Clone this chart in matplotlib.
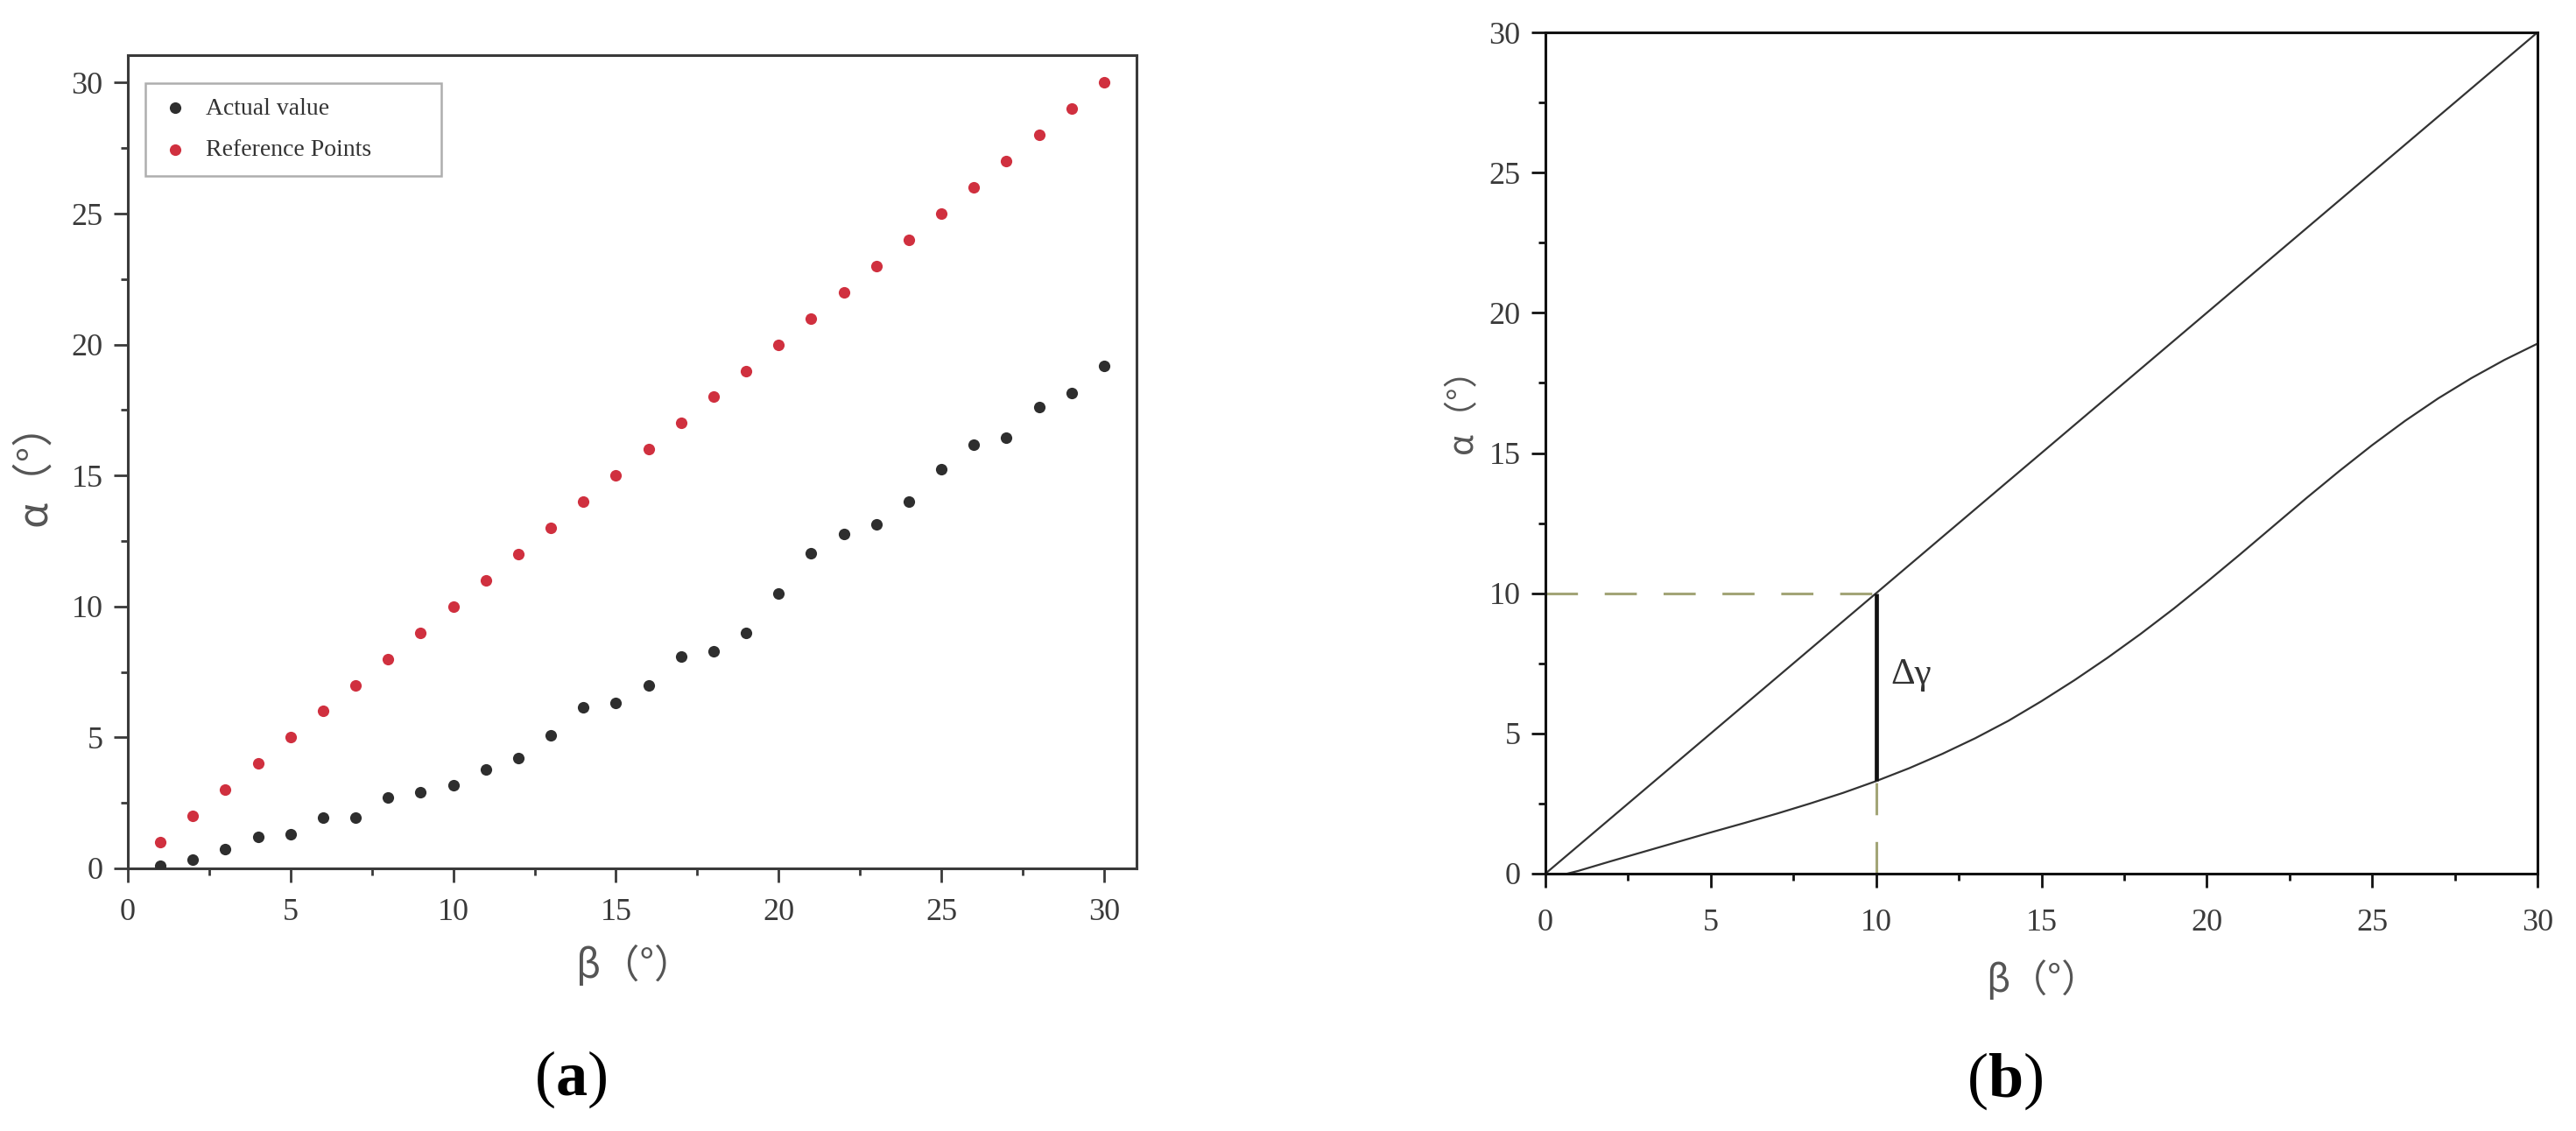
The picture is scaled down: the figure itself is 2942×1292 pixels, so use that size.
import matplotlib
matplotlib.use("Agg")
import matplotlib.pyplot as plt
from matplotlib.ticker import MultipleLocator

plt.rcParams['mathtext.fontset'] = 'custom'
plt.rcParams['mathtext.rm'] = 'Liberation Serif'
plt.rcParams['mathtext.bf'] = 'Liberation Serif:bold'

# ---------------- data: panel (a) ----------------
beta_points = [1, 2, 3, 4, 5, 6, 7, 8, 9, 10, 11, 12, 13, 14, 15,
               16, 17, 18, 19, 20, 21, 22, 23, 24, 25, 26, 27, 28, 29, 30]
actual_value = [0.1, 0.32, 0.75, 1.2, 1.29, 1.95, 1.95, 2.7, 2.92, 3.17,
                3.77, 4.22, 5.09, 6.14, 6.31, 6.98, 8.1, 8.28, 9.0, 10.5,
                12.02, 12.76, 13.14, 14.01, 15.24, 16.17, 16.45, 17.6, 18.15, 19.18]
reference_points = [1, 2, 3, 4, 5, 6, 7, 8, 9, 10, 11, 12, 13, 14, 15,
                    16, 17, 18, 19, 20, 21, 22, 23, 24, 25, 26, 27, 28, 29, 30]
series_labels = ["Actual value", "Reference Points"]

# ---------------- data: panel (b) ----------------
ideal_beta = [0, 30]
ideal_alpha = [0, 30]
curve_beta = [0.66, 1, 2, 3, 4, 5, 6, 7, 8, 9, 10, 11, 12, 13, 14, 15, 16, 17,
              18, 19, 20, 21, 22, 23, 24, 25, 26, 27, 28, 29, 30]
curve_alpha = [0.0, 0.1, 0.45, 0.79, 1.13, 1.47, 1.8, 2.14, 2.5, 2.88, 3.3, 3.76,
               4.27, 4.83, 5.45, 6.15, 6.9, 7.7, 8.55, 9.45, 10.4, 11.38, 12.38,
               13.38, 14.35, 15.28, 16.15, 16.95, 17.67, 18.32, 18.9]
mark_beta = 10
mark_alpha_ideal = 10
mark_alpha_actual = 3.3
delta_label = "Δγ"

ticks = [0, 5, 10, 15, 20, 25, 30]
xlabel_text = "β（°）"
ylabel_text = "α（°）"

W, H = 2942, 1292
fig = plt.figure(figsize=(W / 100, H / 100), dpi=100)
fig.patch.set_facecolor('white')

tick_font = dict(family='Liberation Serif', size=26)
label_font = ['Noto Sans CJK SC', 'DejaVu Sans']


def style_axes(ax, color):
    for sp in ax.spines.values():
        sp.set_linewidth(2.2)
        sp.set_color(color)
    ax.xaxis.set_major_locator(MultipleLocator(5))
    ax.yaxis.set_major_locator(MultipleLocator(5))
    ax.xaxis.set_minor_locator(MultipleLocator(2.5))
    ax.yaxis.set_minor_locator(MultipleLocator(2.5))
    ax.tick_params(which='major', direction='out', length=11.5, width=2.0,
                   color=color, labelcolor='#3a3a3a')
    ax.tick_params(which='minor', direction='out', length=6, width=2.0, color=color)
    ax.tick_params(axis='x', which='major', pad=13)
    ax.tick_params(axis='y', which='major', pad=9)
    ax.set_xticks(ticks)
    ax.set_yticks(ticks)
    ax.set_xticklabels([str(t) for t in ticks], fontdict=tick_font)
    ax.set_yticklabels([str(t) for t in ticks], fontdict=tick_font)


# ---------------- panel (a) ----------------
axa = fig.add_axes([146 / W, 1 - 992 / H, (1298 - 146) / W, (992 - 63) / H])
axa.scatter(beta_points, actual_value, s=90, color='#2e2e2e', zorder=3,
            label=series_labels[0], linewidths=0)
axa.scatter(beta_points, reference_points, s=90, color='#d0303f', zorder=3,
            label=series_labels[1], linewidths=0)
axa.set_xlim(0, 31)
axa.set_ylim(0, 31.05)
style_axes(axa, '#3a3a3a')
leg_w = (504 - 166) / (1298 - 146)
leg = axa.legend(loc='upper left', bbox_to_anchor=(0.017, 0.966, leg_w, 0.0),
                 mode='expand', frameon=True,
                 fancybox=False, prop=dict(family='Liberation Serif', size=20),
                 handletextpad=0.6, borderpad=0.6, labelspacing=0.8,
                 handlelength=1.3, borderaxespad=0, markerscale=1.0)
leg.get_frame().set_edgecolor('#9a9a9a')
leg.get_frame().set_linewidth(1.8)
for t in leg.get_texts():
    t.set_color('#333333')
axa.set_xlabel(xlabel_text, family=label_font, size=32, color='#555555')
axa.set_ylabel(ylabel_text, family=label_font, size=34, color='#555555')
axa.xaxis.set_label_coords(0.502, -0.12)
axa.xaxis.label.set_verticalalignment('center')
axa.yaxis.set_label_coords(-0.093, 0.497)
axa.yaxis.label.set_verticalalignment('center')

# ---------------- panel (b) ----------------
axb = fig.add_axes([1765 / W, 1 - 998 / H, (2898 - 1765) / W, (998 - 37) / H])
axb.plot(ideal_beta, ideal_alpha, color='#333333', lw=1.6, zorder=2)
axb.plot(curve_beta, curve_alpha, color='#333333', lw=1.6, zorder=2)
axb.plot([0, mark_beta], [mark_alpha_ideal, mark_alpha_ideal], color='#a3a577',
         lw=2.2, dashes=(12, 10), zorder=1)
axb.plot([mark_beta, mark_beta], [0, mark_alpha_actual], color='#a3a577',
         lw=2.2, dashes=(12, 10), zorder=1)
axb.plot([mark_beta, mark_beta], [mark_alpha_actual, mark_alpha_ideal],
         color='#111111', lw=3.4, zorder=3, solid_capstyle='butt')
axb.text(mark_beta + 0.45, 7.1, delta_label, family='Liberation Serif', size=31,
         color='#333333', ha='left', va='center')
axb.set_xlim(0, 30)
axb.set_ylim(0, 30)
style_axes(axb, '#111111')
axb.tick_params(axis='x', which='major', pad=17)
axb.set_xlabel(xlabel_text, family=label_font, size=31, color='#555555')
axb.set_ylabel(ylabel_text, family=label_font, size=28, color='#555555')
axb.xaxis.set_label_coords(0.501, -0.127)
axb.xaxis.label.set_verticalalignment('center')
axb.yaxis.set_label_coords(-0.084, 0.56)
axb.yaxis.label.set_verticalalignment('center')

# ---------------- panel labels ----------------
fig.text(652 / W, 1 - 1233 / H, r'($\mathbf{a}$)', family='Liberation Serif',
         size=52, ha='center', va='center', color='black')
fig.text(2290 / W, 1 - 1235 / H, r'($\mathbf{b}$)', family='Liberation Serif',
         size=52, ha='center', va='center', color='black')

fig.savefig('out.png', dpi=100, facecolor='white')
